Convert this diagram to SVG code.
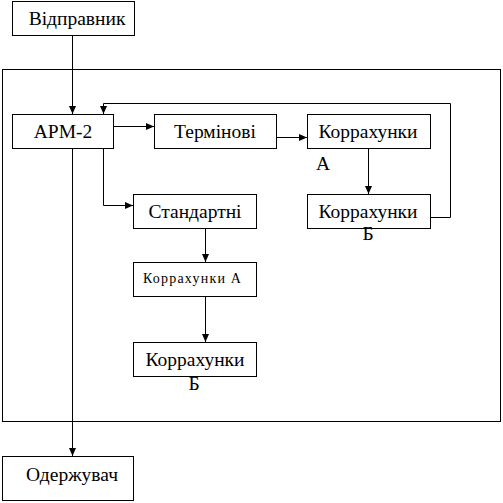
<svg xmlns="http://www.w3.org/2000/svg" width="503" height="503" viewBox="0 0 503 503">
<style>
.b{fill:#fff;stroke:#000;stroke-width:1}
.t{font-family:"Liberation Serif","Times New Roman",serif;font-size:19.5px;fill:#000;text-anchor:middle}
.c{fill:none;stroke:#000;stroke-width:1}
</style>
<defs>
<marker id="a" markerWidth="8" markerHeight="8" refX="8" refY="4" orient="auto" markerUnits="userSpaceOnUse">
<path d="M0,0.5 L8,4 L0,7.5 Z" fill="#000"/>
</marker>
</defs>
<rect x="2.5" y="69.5" width="498" height="352" fill="#fff" stroke="#000"/>
<g id="connectors">
<path class="c" d="M72.5,35 V114" marker-end="url(#a)"/>
<path class="c" d="M307,217.5 H450.5 V103.5 H103.5 V114" marker-end="url(#a)"/>
<path class="c" d="M113,126.5 H154" marker-end="url(#a)"/>
<path class="c" d="M276,137.5 H307" marker-end="url(#a)"/>
<path class="c" d="M368.5,148 V194" marker-end="url(#a)"/>
<path class="c" d="M103.5,148 V205.5 H133" marker-end="url(#a)"/>
<path class="c" d="M205.5,228 V262" marker-end="url(#a)"/>
<path class="c" d="M205.5,296 V342" marker-end="url(#a)"/>
<path class="c" d="M72.5,148 V456" marker-end="url(#a)"/>
</g>
<g id="n1"><rect class="b" x="12.5" y="1.5" width="122" height="34"/><text class="t" x="77" y="25">Відправник</text></g>
<g id="n2"><rect class="b" x="12.5" y="114.5" width="101" height="34"/><text class="t" x="63" y="138">АРМ-2</text></g>
<g id="n3"><rect class="b" x="154.5" y="114.5" width="122" height="34"/><text class="t" x="215" y="138">Термінові</text></g>
<g id="n4"><rect class="b" x="307.5" y="114.5" width="123" height="34"/><text class="t" x="368" y="138">Коррахунки</text><text class="t" x="323" y="170">А</text></g>
<g id="n5"><rect class="b" x="307.5" y="194.5" width="123" height="34"/><text class="t" x="368" y="218">Коррахунки</text><text class="t" x="368" y="240">Б</text></g>
<g id="n6"><rect class="b" x="133.5" y="194.5" width="123" height="34"/><text class="t" x="195" y="218">Стандартні</text></g>
<g id="n7"><rect class="b" x="133.5" y="262.5" width="123" height="34"/><text class="t" x="143" y="283" style="font-size:14px;text-anchor:start;letter-spacing:1.2px">Коррахунки А</text></g>
<g id="n8"><rect class="b" x="133.5" y="342.5" width="123" height="34"/><text class="t" x="195" y="366">Коррахунки</text><text class="t" x="194" y="390">Б</text></g>
<g id="n9"><rect class="b" x="2.5" y="456.5" width="131" height="44"/><text class="t" x="72" y="481">Одержувач</text></g>
</svg>
